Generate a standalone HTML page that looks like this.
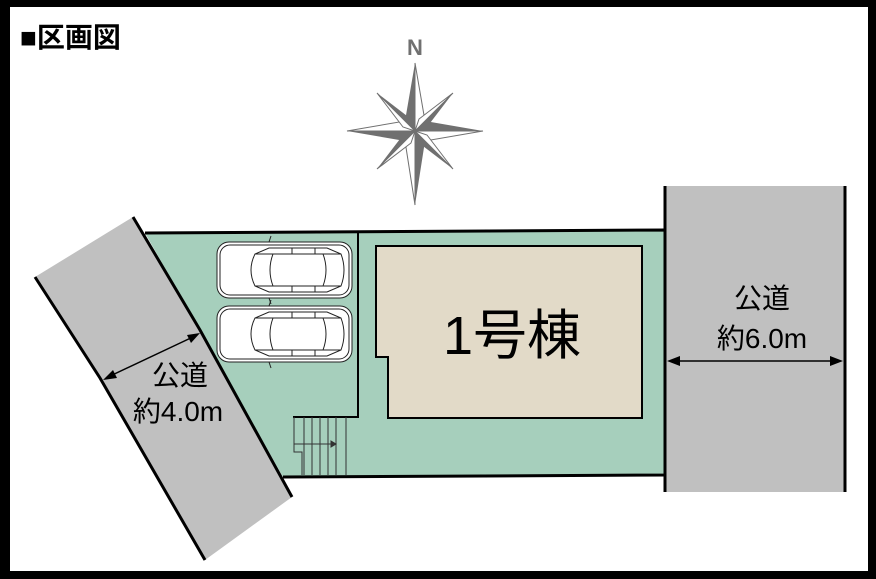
<!DOCTYPE html>
<html><head><meta charset="utf-8"><style>
html,body{margin:0;padding:0;background:#000;}
svg{display:block}
</style></head><body>
<svg width="876" height="579" viewBox="0 0 876 579" xmlns="http://www.w3.org/2000/svg">
<rect x="0" y="0" width="876" height="579" fill="#000"/>
<rect x="10" y="7" width="858" height="564" fill="#fff"/>
<text x="20" y="47" font-family="'Liberation Sans','Noto Sans CJK JP',sans-serif" font-weight="bold" font-size="28" fill="#000">■区画図</text>
<!-- compass -->
<text x="415" y="55" text-anchor="middle" font-family="'Liberation Sans',sans-serif" font-weight="bold" font-size="22" fill="#707070">N</text>
<g transform="translate(415,131)" fill="#707070">
  <polygon points="0,-68 -10,-10 0,0"/><polygon points="0,-68 10,-10 0,0" fill="#fff" stroke="#707070" stroke-width="1"/>
  <polygon points="0,74 10,10 0,0"/><polygon points="0,74 -10,10 0,0" fill="#fff" stroke="#707070" stroke-width="1"/>
  <polygon points="-68,0 -10,10 0,0"/><polygon points="-68,0 -10,-10 0,0" fill="#fff" stroke="#707070" stroke-width="1"/>
  <polygon points="68,0 10,-10 0,0"/><polygon points="68,0 10,10 0,0" fill="#fff" stroke="#707070" stroke-width="1"/>
  <polygon points="-38,-38 -4,-12 0,0"/><polygon points="-38,-38 -12,-4 0,0" fill="#fff" stroke="#707070"/>
  <polygon points="38,-38 12,-4 0,0"/><polygon points="38,-38 4,-12 0,0" fill="#fff" stroke="#707070"/>
  <polygon points="-38,38 -12,4 0,0"/><polygon points="-38,38 -4,12 0,0" fill="#fff" stroke="#707070"/>
  <polygon points="38,38 4,12 0,0"/><polygon points="38,38 12,4 0,0" fill="#fff" stroke="#707070"/>
</g>
<!-- left road -->
<polygon points="35,277 100,378 205,560 292,497 200,330 133,217" fill="#c0c0c0"/>
<polyline points="35,277 100,378 205,560" fill="none" stroke="#000" stroke-width="3"/>
<!-- lot -->
<polygon points="145,233 665,230 665,475 283,477 200,330" fill="#a6cfbc"/>
<polyline points="145,233 665,230 665,475 283,477" fill="none" stroke="#000" stroke-width="3"/>
<polyline points="133,217 200,330 292,497" fill="none" stroke="#000" stroke-width="3"/>
<polyline points="358,233 358,417 293,417" fill="none" stroke="#000" stroke-width="2"/>
<!-- stairs -->
<g stroke="#333" stroke-width="1" fill="none">
 <line x1="304" y1="417" x2="304" y2="475"/><line x1="312" y1="417" x2="312" y2="475"/>
 <line x1="320" y1="417" x2="320" y2="475"/><line x1="328" y1="417" x2="328" y2="475"/>
 <line x1="336" y1="417" x2="336" y2="475"/><line x1="346" y1="417" x2="346" y2="475"/>
 <polyline points="294,417 294,452 302,452 302,475"/>
 <line x1="294" y1="444" x2="336" y2="444"/>
 <polygon points="331,441 336,444 331,447" fill="#333"/>
</g>
<!-- house -->
<polygon points="376,246 642,246 642,418 388,418 388,357 376,357" fill="#e2dac8" stroke="#000" stroke-width="2"/>
<text x="512" y="354" text-anchor="middle" font-family="'Liberation Sans','Noto Sans CJK JP',sans-serif" font-size="54" fill="#000">1号棟</text>
<!-- cars -->
<defs>
<g id="car" fill="#fff" stroke="#222" stroke-width="1">
 <rect x="0" y="0" width="135" height="56" rx="12"/>
 <rect x="3" y="3" width="129" height="50" rx="10" fill="none"/>
 <path d="M38,12 Q30,28 38,44 L52,50 L110,50 L124,44 Q130,28 124,12 L110,6 L52,6 Z"/>
 <path d="M56,12 Q50,28 56,44 L106,44 Q112,28 106,12 Z"/>
 <line x1="38" y1="12" x2="56" y2="12"/><line x1="38" y1="44" x2="56" y2="44"/>
 <line x1="106" y1="12" x2="124" y2="12"/><line x1="106" y1="44" x2="124" y2="44"/>
 <line x1="75" y1="6" x2="75" y2="12"/><line x1="98" y1="6" x2="98" y2="12"/>
 <line x1="75" y1="44" x2="75" y2="50"/><line x1="98" y1="44" x2="98" y2="50"/>
 <line x1="52" y1="0" x2="54" y2="-6"/><line x1="52" y1="56" x2="54" y2="62"/>
</g>
</defs>
<use href="#car" x="217" y="242"/>
<use href="#car" x="217" y="306"/>
<!-- right road -->
<rect x="665" y="186" width="180" height="306" fill="#c0c0c0"/>
<line x1="665" y1="186" x2="665" y2="492" stroke="#000" stroke-width="3"/>
<line x1="845" y1="186" x2="845" y2="492" stroke="#000" stroke-width="3"/>
<line x1="672" y1="361" x2="838" y2="361" stroke="#000" stroke-width="1.5"/>
<polygon points="667,361 680,356 680,366" fill="#000"/>
<polygon points="843,361 830,356 830,366" fill="#000"/>
<g font-family="'Liberation Sans','Noto Sans CJK JP',sans-serif" font-size="28" fill="#000" text-anchor="middle">
<text x="762" y="308">公道</text>
<text x="762" y="348">約6.0m</text>
<text x="180" y="385">公道</text>
<text x="178" y="421">約4.0m</text>
</g>
<line x1="108" y1="377" x2="195" y2="336" stroke="#000" stroke-width="1.5"/>
<polygon points="103,380 113,370 117,378" fill="#000"/>
<polygon points="200,333 187,335 191,343" fill="#000"/>
</svg>
</body></html>
